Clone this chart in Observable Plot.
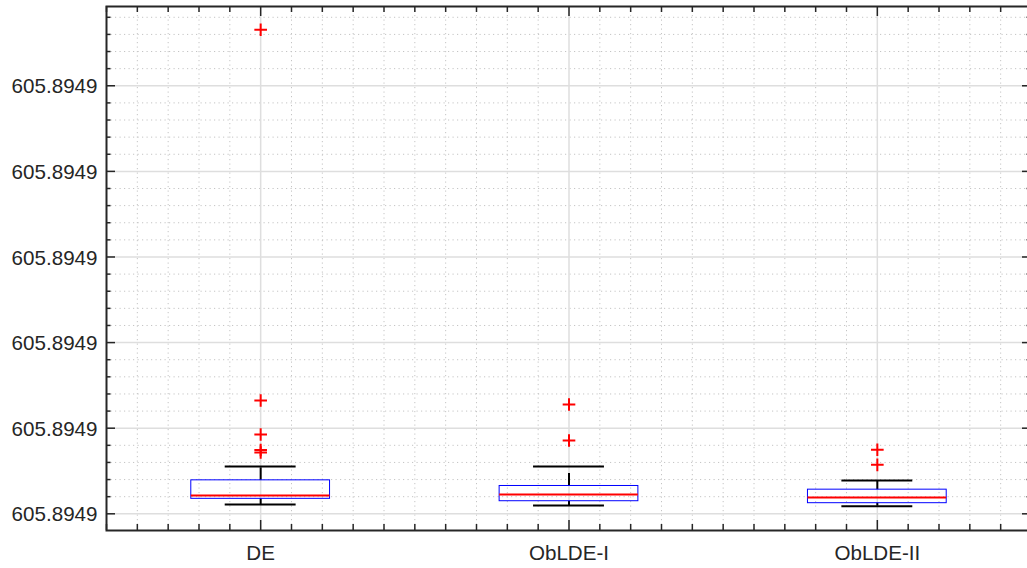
<!DOCTYPE html>
<html>
<head>
<meta charset="utf-8">
<script src="https://cdn.jsdelivr.net/npm/d3@7"></script>
<script src="https://cdn.jsdelivr.net/npm/@observablehq/plot@0.6"></script>
<style>
  html, body { margin: 0; padding: 0; background: #fff; overflow: hidden; }
</style>
</head>
<body>
<div id="chart"></div>
<script>
// ---- data ----
const categories = ["DE", "ObLDE-I", "ObLDE-II"];
const whiskerLow  = [605.894900109, 605.894900097, 605.894900089];
const q1          = [605.894900175, 605.894900147, 605.894900124];
const median      = [605.894900214, 605.894900225, 605.894900190];
const q3          = [605.894900391, 605.894900325, 605.894900282];
const whiskerHigh = [605.894900553, 605.894900553, 605.894900389];
const outliers = [
  [605.894905654, 605.894901324, 605.894900926, 605.894900745, 605.894900716],
  [605.894901277, 605.894900856],
  [605.894900748, 605.894900572]
];
const yMajorTicks = [605.894900, 605.894901, 605.894902, 605.894903, 605.894904, 605.894905];
const yMinorTicks = d3.range(0, 30).map(k => 605.8949 + k * 0.2e-6).filter((d, k) => k % 5 !== 0);
const xMajorTicks = [1, 2, 3];
const xMinorTicks = d3.range(5, 36).map(k => k / 10).filter(d => !Number.isInteger(d));
const yDomain = [605.894900 - 0.195e-6, 605.894900 + 5.926e-6];

// ---- derived tables ----
const boxes = categories.map((c, i) => ({
  x: i + 1, name: c, lo: whiskerLow[i], q1: q1[i], med: median[i], q3: q3[i], hi: whiskerHigh[i]
}));
const outlierPts = outliers.flatMap((vals, i) => vals.map(v => ({x: i + 1, y: v})));

const halfBox = 0.225, halfCap = 0.115;
const W = 1027, H = 568;
const mL = 106, mR = -4, mT = 6, mB = 38;
const frameW = W - mL - mR, frameH = H - mT - mB;
const ink = "#262626";
const fmt = d3.format(".4f");
const fs = 20.6;

const chart = Plot.plot({
  width: W, height: H,
  marginLeft: mL, marginRight: mR, marginTop: mT, marginBottom: mB,
  style: {fontFamily: "'Liberation Sans', Arial, Helvetica, sans-serif", fontSize: fs + "px", background: "#fff", color: ink},
  x: {type: "linear", domain: [0.5, 3.5], axis: null},
  y: {type: "linear", domain: yDomain, axis: null},
  marks: [
    // minor grid (dotted)
    Plot.ruleX(xMinorTicks, {x: d => d, stroke: "#c4c4c4", strokeWidth: 1, strokeDasharray: "1.2,3.3"}),
    Plot.ruleY(yMinorTicks, {y: d => d, stroke: "#c4c4c4", strokeWidth: 1, strokeDasharray: "1.2,3.3"}),
    // major grid
    Plot.ruleX(xMajorTicks, {x: d => d, stroke: "#dedede", strokeWidth: 1.5}),
    Plot.ruleY(yMajorTicks, {y: d => d, stroke: "#dedede", strokeWidth: 1.5}),
    // whiskers
    Plot.ruleX(boxes, {x: "x", y1: "q3", y2: "hi", stroke: "#000", strokeWidth: 2, strokeDasharray: "12.5,8"}),
    Plot.ruleX(boxes, {x: "x", y1: "q1", y2: "lo", stroke: "#000", strokeWidth: 2, strokeDasharray: "12.5,8"}),
    Plot.ruleY(boxes, {y: "hi", x1: d => d.x - halfCap, x2: d => d.x + halfCap, stroke: "#000", strokeWidth: 2}),
    Plot.ruleY(boxes, {y: "lo", x1: d => d.x - halfCap, x2: d => d.x + halfCap, stroke: "#000", strokeWidth: 2}),
    // boxes
    Plot.rect(boxes, {x1: d => d.x - halfBox, x2: d => d.x + halfBox, y1: "q1", y2: "q3", fill: "none", stroke: "#0000ff", strokeWidth: 1}),
    Plot.ruleY(boxes, {y: "med", x1: d => d.x - halfBox, x2: d => d.x + halfBox, stroke: "#ff0000", strokeWidth: 2}),
    // outliers
    Plot.dot(outlierPts, {x: "x", y: "y", symbol: "plus", r: 4.15, stroke: "#ff0000", strokeWidth: 2, fill: "none"}),
    // ticks (inward) bottom/top
    Plot.ruleX(xMajorTicks, {x: d => d, insetTop: frameH - 10, stroke: ink, strokeWidth: 1.5}),
    Plot.ruleX(xMinorTicks, {x: d => d, insetTop: frameH - 6, stroke: ink, strokeWidth: 1.5}),
    Plot.ruleX(xMajorTicks, {x: d => d, insetBottom: frameH - 10, stroke: ink, strokeWidth: 1.5}),
    Plot.ruleX(xMinorTicks, {x: d => d, insetBottom: frameH - 6, stroke: ink, strokeWidth: 1.5}),
    // ticks left/right
    Plot.ruleY(yMajorTicks, {y: d => d, insetRight: frameW - 9, stroke: ink, strokeWidth: 1.5}),
    Plot.ruleY(yMinorTicks, {y: d => d, insetRight: frameW - 4.5, stroke: ink, strokeWidth: 1.5}),
    Plot.ruleY(yMajorTicks, {y: d => d, insetLeft: frameW - 9, stroke: ink, strokeWidth: 1.5}),
    Plot.ruleY(yMinorTicks, {y: d => d, insetLeft: frameW - 4.5, stroke: ink, strokeWidth: 1.5}),
    // frame
    Plot.frame({stroke: ink, strokeWidth: 2}),
    // labels
    Plot.text(yMajorTicks, {y: d => d, frameAnchor: "left", dx: -9, dy: 1, textAnchor: "end", text: d => fmt(d), fill: ink, fontSize: fs}),
    Plot.text(categories, {x: (d, i) => xMajorTicks[i], frameAnchor: "bottom", dy: 14.5, lineAnchor: "top", text: d => d, fill: ink, fontSize: fs})
  ]
});
document.getElementById("chart").appendChild(chart);
</script>
</body>
</html>
